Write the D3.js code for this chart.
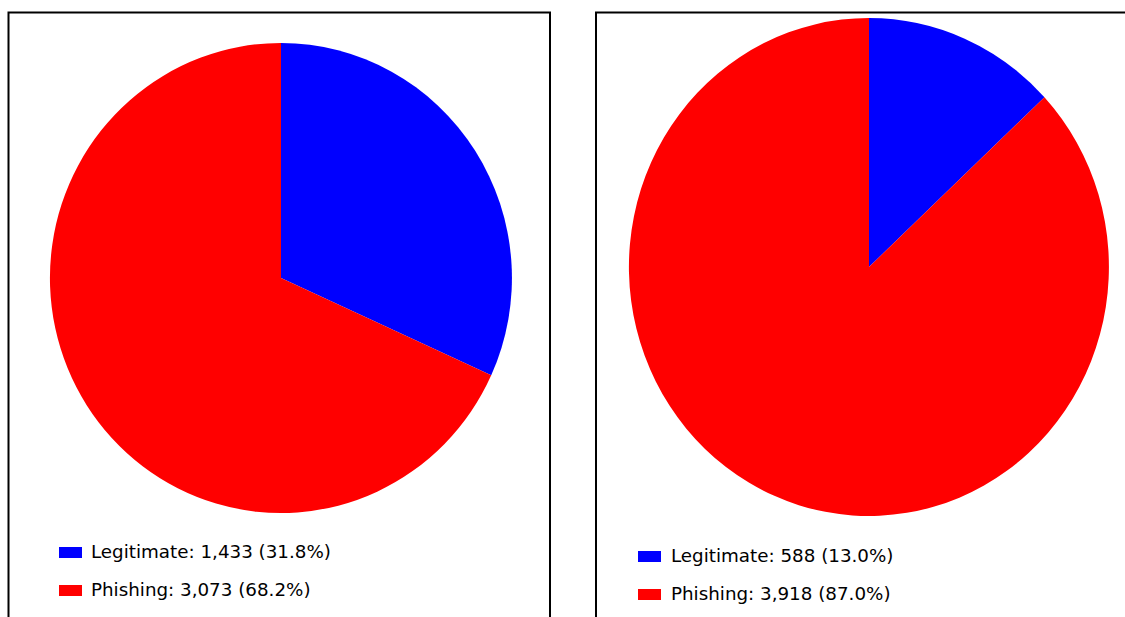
<!DOCTYPE html>
<html>
<head>
<meta charset="utf-8">
<script src="https://cdn.jsdelivr.net/npm/d3@7"></script>
<style>
  html, body { margin: 0; padding: 0; background: #fff; }
  svg { display: block; }
</style>
</head>
<body>
<svg id="chart" width="1125" height="617"></svg>
<script>
// Class counts for the two datasets
const categories = ["Legitimate", "Phishing"];
const colors = ["#0000ff", "#ff0000"];
const leftValues = [1433, 3073];
const rightValues = [588, 3918];

const svg = d3.select("#chart");
const fmt = d3.format(",");
const pct = d3.format(".1%");

// Panel layout: frame box, pie center/radii, legend position
const panels = [
  { values: leftValues, frame: [8.5, 12.5, 550, 640], cx: 281, cy: 278, rx: 231, ry: 235,
    legendX: 59, swatchY: [547, 585], textX: 91, baseY: [558, 596] },
  { values: rightValues, frame: [596, 12.5, 1140, 640], cx: 869, cy: 267, rx: 240, ry: 249,
    legendX: 638, swatchY: [551, 589], textX: 671, baseY: [562, 600] }
];

const pie = d3.pie().sort(null).value(d => d).startAngle(0).endAngle(2 * Math.PI);

panels.forEach(p => {
  const g = svg.append("g");
  const [x0, y0, x1, y1] = p.frame;
  g.append("path")
    .attr("d", `M${x0},${y1} L${x0},${y0} L${x1},${y0} L${x1},${y1}`)
    .attr("fill", "none")
    .attr("stroke", "#000")
    .attr("stroke-width", 2);

  // unit-radius arcs, stretched to the pie's horizontal/vertical radii
  const arc = d3.arc().innerRadius(0).outerRadius(1);
  const total = d3.sum(p.values);
  g.append("g")
    .attr("transform", `translate(${p.cx},${p.cy}) scale(${p.rx},${p.ry})`)
    .selectAll("path")
    .data(pie(p.values))
    .join("path")
    .attr("d", arc)
    .attr("fill", (d, i) => colors[i]);

  const legend = g.append("g");
  p.values.forEach((v, i) => {
    legend.append("rect")
      .attr("x", p.legendX).attr("y", p.swatchY[i])
      .attr("width", 23).attr("height", 11)
      .attr("fill", colors[i]);
    legend.append("text")
      .attr("x", p.textX).attr("y", p.baseY[i])
      .attr("font-family", "DejaVu Sans, Verdana, sans-serif")
      .attr("font-size", 18.3)
      .attr("fill", "#000")
      .text(`${categories[i]}: ${fmt(v)} (${pct(v / total)})`);
  });
});
</script>
</body>
</html>
